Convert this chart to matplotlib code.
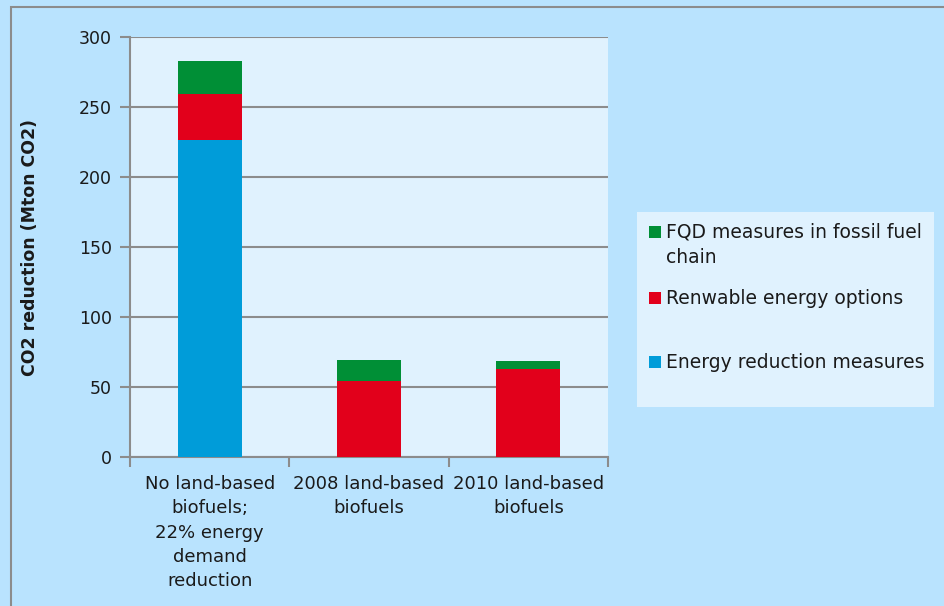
import matplotlib.pyplot as plt
import matplotlib.patches as mpatches
import numpy as np

# data
categories = [
    "No land-based\nbiofuels;\n22% energy\ndemand\nreduction",
    "2008 land-based\nbiofuels",
    "2010 land-based\nbiofuels",
]
energy_reduction = [226.5, 0, 0]
renewable = [32.8, 54.3, 62.9]
fqd = [23.6, 15.0, 5.7]

series_labels = [
    "FQD measures in fossil fuel\nchain",
    "Renwable energy options",
    "Energy reduction measures",
]
colors = {"blue": "#009cd9", "red": "#e2001b", "green": "#008f36"}
txt_col = "#1a1a1a"

W, H = 945, 606
fig = plt.figure(figsize=(W / 100, H / 100), dpi=100)
fig.patch.set_facecolor("#b9e3fe")


def fx(px):
    return px / W


def fy(py):
    return 1 - py / H


# outer border of the chart frame
fig.patches.append(
    mpatches.Rectangle(
        (fx(11), -0.1), 1.2, 1.1 - 7 / H,
        transform=fig.transFigure, fill=False, edgecolor="#8c8c8c", lw=1.5,
    )
)

ax = fig.add_axes([fx(130), fy(457), 478 / W, 420 / H])
ax.set_facecolor("#e0f2fe")

x = np.arange(len(categories))
w = 0.40
ax.bar(x, energy_reduction, w, color=colors["blue"], zorder=3)
ax.bar(x, renewable, w, bottom=energy_reduction, color=colors["red"], zorder=3)
bottom2 = [a + b for a, b in zip(energy_reduction, renewable)]
ax.bar(x, fqd, w, bottom=bottom2, color=colors["green"], zorder=3)

ax.set_xlim(-0.5, 2.5)
ax.set_ylim(0, 300)
ax.set_yticks(range(0, 301, 50))
ax.yaxis.grid(True, color="#8c8c8c", lw=1.5, zorder=0)
ax.set_axisbelow(True)

for s in ["top", "right"]:
    ax.spines[s].set_visible(False)
for s in ["left", "bottom"]:
    ax.spines[s].set_color("#8c8c8c")
    ax.spines[s].set_linewidth(1.5)

ax.set_xticks(x)
ax.set_xticklabels(categories, fontsize=13, linespacing=1.45, color=txt_col)
ax.tick_params(axis="x", length=0, pad=13)
ax.set_xticks([-0.5, 0.5, 1.5, 2.5], minor=True)
ax.tick_params(axis="x", which="minor", length=7, width=1.5, color="#8c8c8c")
ax.tick_params(axis="y", length=7, width=1.5, color="#8c8c8c", labelsize=12.5,
               labelcolor=txt_col, pad=6)

ax.set_ylabel("CO2 reduction (Mton CO2)", fontsize=12.5, fontweight="bold",
              color=txt_col, labelpad=29)

# legend box, drawn by hand to keep the uneven spacing of the original
fig.patches.append(
    mpatches.Rectangle(
        (fx(637), fy(407)), (934 - 637) / W, (407 - 212) / H,
        transform=fig.transFigure, facecolor="#e0f2fe", edgecolor="none",
    )
)
entry_y = [232, 298, 362]
entry_cols = [colors["green"], colors["red"], colors["blue"]]
for lab, yy, c in zip(series_labels, entry_y, entry_cols):
    fig.patches.append(
        mpatches.Rectangle(
            (fx(649), fy(yy + 6)), 12 / W, 12 / H,
            transform=fig.transFigure, facecolor=c, edgecolor="none",
        )
    )
    fig.text(fx(666), fy(yy - 9), lab, fontsize=13.5, color=txt_col,
             ha="left", va="top", linespacing=1.4)

fig.savefig("out.png", dpi=100, facecolor=fig.get_facecolor())
